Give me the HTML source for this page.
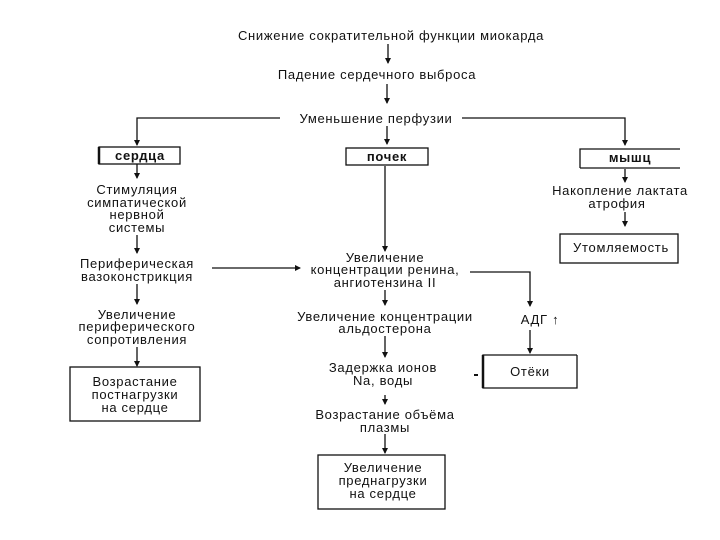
<!DOCTYPE html>
<html><head><meta charset="utf-8"><style>
html,body{margin:0;padding:0;background:#fff;width:720px;height:540px;overflow:hidden}
svg text{font-family:"Liberation Sans","Noto Sans CJK SC",sans-serif;font-size:13px;letter-spacing:0.7px;fill:#111;text-anchor:middle}
.b{font-weight:bold}
</style></head><body>
<svg width="720" height="540" viewBox="0 0 720 540" xmlns="http://www.w3.org/2000/svg">
<defs><marker id="a" markerWidth="6" markerHeight="6" refX="5" refY="3" orient="auto" markerUnits="userSpaceOnUse"><path d="M0,0 L6,3 L0,6 z" fill="#111"/></marker></defs>
<g stroke="#111" stroke-width="1.3" fill="none">
<line x1="388" y1="44" x2="388" y2="63" marker-end="url(#a)"/>
<line x1="387" y1="84" x2="387" y2="103" marker-end="url(#a)"/>
<line x1="387" y1="126" x2="387" y2="144" marker-end="url(#a)"/>
<polyline points="280,118 137,118 137,145" marker-end="url(#a)"/>
<polyline points="462,118 625,118 625,145" marker-end="url(#a)"/>
<rect x="99" y="147" width="81" height="17"/>
<line x1="99" y1="147" x2="99" y2="164" stroke-width="2.5"/>
<rect x="346" y="148" width="82" height="17"/>
<polyline points="580,168 580,149 680,149"/>
<line x1="580" y1="168" x2="680" y2="168"/>
<rect x="560" y="234" width="118" height="29"/>
<rect x="70" y="367" width="130" height="54"/>
<rect x="318" y="455" width="127" height="54"/>
<polyline points="577,355 483,355 483,388 577,388 577,355"/>
<line x1="483" y1="355" x2="483" y2="388" stroke-width="2.5"/>
<line x1="137" y1="164" x2="137" y2="178" marker-end="url(#a)"/>
<line x1="137" y1="235" x2="137" y2="253" marker-end="url(#a)"/>
<line x1="137" y1="284" x2="137" y2="304" marker-end="url(#a)"/>
<line x1="137" y1="347" x2="137" y2="366" marker-end="url(#a)"/>
<line x1="212" y1="268" x2="300" y2="268" marker-end="url(#a)"/>
<line x1="385" y1="166" x2="385" y2="251" marker-end="url(#a)"/>
<line x1="385" y1="290" x2="385" y2="305" marker-end="url(#a)"/>
<line x1="385" y1="336" x2="385" y2="357" marker-end="url(#a)"/>
<line x1="385" y1="395" x2="385" y2="404" marker-end="url(#a)"/>
<line x1="385" y1="434" x2="385" y2="453" marker-end="url(#a)"/>
<polyline points="470,272 530,272 530,306" marker-end="url(#a)"/>
<line x1="530" y1="330" x2="530" y2="353" marker-end="url(#a)"/>
<line x1="474" y1="375" x2="478" y2="375" stroke-width="2"/>
<line x1="625" y1="169" x2="625" y2="182" marker-end="url(#a)"/>
<line x1="625" y1="212" x2="625" y2="226" marker-end="url(#a)"/>
</g>
<text x="391" y="40">Снижение сократительной  функции  миокарда</text>
<text x="377" y="79">Падение  сердечного  выброса</text>
<text x="376" y="123">Уменьшение  перфузии</text>
<text x="140" y="160" class="b">сердца</text>
<text x="387" y="161" class="b">почек</text>
<text x="630" y="162" class="b">мышц</text>
<text x="137" y="194">Стимуляция</text>
<text x="137" y="207">симпатической</text>
<text x="137" y="219">нервной</text>
<text x="137" y="232">системы</text>
<text x="137" y="268">Периферическая</text>
<text x="137" y="281">вазоконстрикция</text>
<text x="137" y="319">Увеличение</text>
<text x="137" y="331">периферического</text>
<text x="137" y="344">сопротивления</text>
<text x="135" y="386">Возрастание</text>
<text x="135" y="399">постнагрузки</text>
<text x="135" y="412">на сердце</text>
<text x="385" y="262">Увеличение</text>
<text x="385" y="274">концентрации ренина,</text>
<text x="385" y="287">ангиотензина II</text>
<text x="385" y="321">Увеличение концентрации</text>
<text x="385" y="333">альдостерона</text>
<text x="383" y="372">Задержка ионов</text>
<text x="383" y="385">Na, воды</text>
<text x="385" y="419">Возрастание объёма</text>
<text x="385" y="432">плазмы</text>
<text x="383" y="472">Увеличение</text>
<text x="383" y="485">преднагрузки</text>
<text x="383" y="498">на сердце</text>
<text x="540" y="324">АДГ ↑</text>
<text x="530" y="376">Отёки</text>
<text x="620" y="195">Накопление лактата</text>
<text x="617" y="208">атрофия</text>
<text x="621" y="252">Утомляемость</text>
</svg>
</body></html>
